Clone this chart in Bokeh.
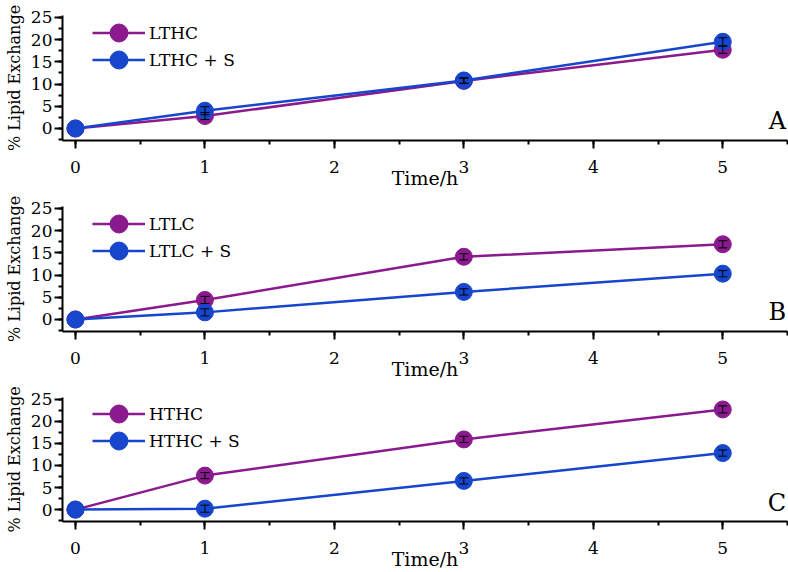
from bokeh.plotting import figure
from bokeh.layouts import column
from bokeh.models import (Range1d, SingleIntervalTicker, Whisker, ColumnDataSource,
                          Label, Legend, LegendItem, TeeHead)
from bokeh.embed import file_html
from bokeh.resources import INLINE

# ---- data ----
time_h = [0, 1, 3, 5]
panel_letters = ["A", "B", "C"]
series_names = [["LTHC", "LTHC + S"], ["LTLC", "LTLC + S"], ["HTHC", "HTHC + S"]]

lthc = [0.0, 2.8, 10.7, 17.7]
lthc_s = [0.0, 4.0, 10.8, 19.5]
ltlc = [0.0, 4.4, 14.1, 16.9]
ltlc_s = [0.0, 1.6, 6.2, 10.3]
hthc = [0.0, 7.7, 15.9, 22.7]
hthc_s = [0.0, 0.2, 6.5, 12.8]

lthc_err = [0.0, 0.8, 0.6, 0.8]
lthc_s_err = [0.0, 0.9, 0.6, 0.9]
ltlc_err = [0.0, 0.8, 0.7, 0.8]
ltlc_s_err = [0.0, 0.8, 0.7, 0.7]
hthc_err = [0.0, 0.7, 0.7, 0.8]
hthc_s_err = [0.0, 0.8, 0.7, 0.7]

panels = [
    (lthc, lthc_err, lthc_s, lthc_s_err),
    (ltlc, ltlc_err, ltlc_s, ltlc_s_err),
    (hthc, hthc_err, hthc_s, hthc_s_err),
]

PURPLE = "#8a1a8e"
BLUE = "#1646cc"
FONT = "DejaVu Serif"

borders = [(15, 50, 191), (15, 50, 191), (15, 49, 190)]


def make_legend(label, renderers, y):
    return Legend(items=[LegendItem(label=label, renderers=renderers)],
                  location=(30, y), border_line_color=None, background_fill_alpha=0,
                  padding=0, margin=0, spacing=0, glyph_width=53, glyph_height=45,
                  label_standoff=4, label_text_font=FONT, label_text_font_size="17px",
                  label_text_color="black", label_height=45)


figs = []
for i, (a, ae, b, be) in enumerate(panels):
    top, bottom, h = borders[i]
    p = figure(width=788, height=h, output_backend="svg", toolbar_location=None,
               x_range=Range1d(-0.1, 5.5), y_range=Range1d(-2.7, 25.4),
               min_border_left=62, min_border_right=1, min_border_top=top,
               min_border_bottom=bottom)
    p.outline_line_color = None
    p.xgrid.visible = False
    p.ygrid.visible = False
    p.background_fill_color = "white"

    p.xaxis.ticker = SingleIntervalTicker(interval=1, num_minor_ticks=2)
    p.yaxis.ticker = SingleIntervalTicker(interval=5, num_minor_ticks=2)
    for ax in (p.xaxis[0], p.yaxis[0]):
        ax.axis_line_width = 2
        ax.axis_line_color = "black"
        ax.major_tick_line_width = 2
        ax.minor_tick_line_width = 2
        ax.major_tick_line_color = "black"
        ax.minor_tick_line_color = "black"
        ax.major_tick_out = 8
        ax.major_tick_in = 0
        ax.minor_tick_out = 4
        ax.minor_tick_in = 0
        ax.major_label_text_font = FONT
        ax.major_label_text_font_size = "17px"
        ax.major_label_text_color = "black"
        ax.axis_label_text_font = FONT
        ax.axis_label_text_font_style = "normal"
        ax.axis_label_text_color = "black"
    p.xaxis.axis_label = "Time/h"
    p.xaxis.axis_label_text_font_size = "19px"
    p.xaxis.major_label_standoff = 12
    p.xaxis.axis_label_standoff = -9
    p.yaxis.axis_label = "% Lipid Exchange"
    p.yaxis.axis_label_text_font_size = "16px"
    p.yaxis.major_label_standoff = 2
    p.yaxis.axis_label_standoff = 4

    l1 = p.line(time_h, a, line_color=PURPLE, line_width=2.5)
    m1 = p.scatter(time_h, a, marker="circle", size=17, fill_color=PURPLE, line_color=PURPLE)
    l2 = p.line(time_h, b, line_color=BLUE, line_width=2.5)
    m2 = p.scatter(time_h, b, marker="circle", size=17, fill_color=BLUE, line_color=BLUE)

    for vals, errs in ((a, ae), (b, be)):
        xs = [t for t, e in zip(time_h, errs) if e > 0]
        up = [v + e for v, e in zip(vals, errs) if e > 0]
        lo = [v - e for v, e in zip(vals, errs) if e > 0]
        src = ColumnDataSource(dict(base=xs, upper=up, lower=lo))
        w = Whisker(source=src, base="base", upper="upper", lower="lower",
                    line_color="black", line_width=1, level="overlay",
                    upper_head=TeeHead(size=9, line_color="black", line_width=1),
                    lower_head=TeeHead(size=9, line_color="black", line_width=1))
        p.add_layout(w)

    p.add_layout(make_legend(series_names[i][0], [l1, m1], 85), "center")
    p.add_layout(make_legend(series_names[i][1], [l2, m2], 58), "center")

    p.add_layout(Label(x=5.49, y=1.6, text=panel_letters[i], text_font=FONT,
                       text_font_size="24px", text_align="right",
                       text_baseline="alphabetic", text_color="black"))
    figs.append(p)

layout = column(*figs, spacing=0)
open("out.html", "w").write(file_html(layout, INLINE))
